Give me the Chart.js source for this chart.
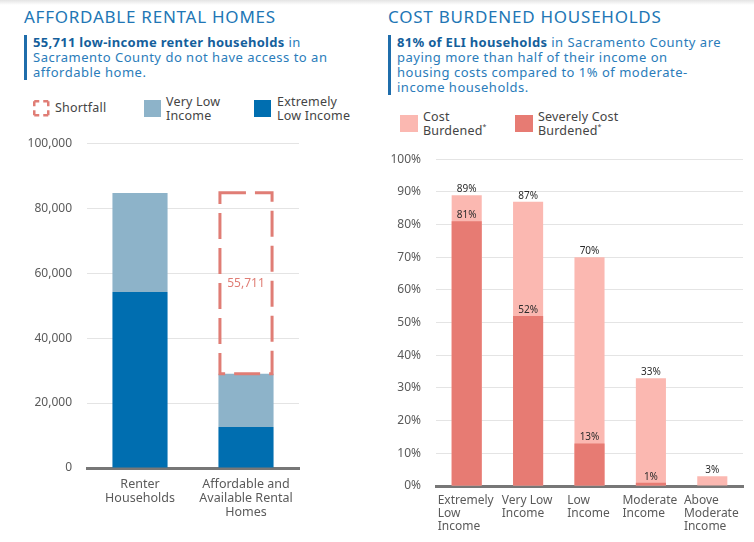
<!DOCTYPE html>
<html>
<head>
<meta charset="utf-8">
<script src="https://cdn.jsdelivr.net/npm/chart.js@4.4.0/dist/chart.umd.min.js"></script>
<style>
  body { margin: 0; width: 754px; height: 542px; position: relative; overflow: hidden; background: #fff; font-family: "Noto Sans", sans-serif; }
  .topshade { position: absolute; left: 0; top: 0; width: 754px; height: 5px; background: linear-gradient(#e4e4e4, #fff); }
  .title { position: absolute; top: 6px; font-size: 17px; line-height: 22px; color: #2176b5; letter-spacing: 0.75px; }
  .sub { position: absolute; border-left: 3px solid #1f6dab; padding-left: 6px; font-size: 13px; line-height: 15px; color: #2a7cba; letter-spacing: 0.5px; }
  .sub b { color: #155f9c; letter-spacing: 0.3px; }
  .leg { position: absolute; font-size: 12.5px; line-height: 14px; color: #444; white-space: nowrap; letter-spacing: 0.2px; }
  .leg sup { font-size: 7px; vertical-align: 6px; line-height: 0; }
  .sw { position: absolute; }
  canvas { position: absolute; }
</style>
</head>
<body>
<div class="topshade"></div>

<div class="title" style="left:24px">AFFORDABLE RENTAL HOMES</div>
<div class="sub" style="left:24px;top:35px"><b>55,711 low-income renter households</b> in<br>Sacramento County do not have access to an<br>affordable home.</div>

<svg class="sw" style="left:33px;top:100px" width="17" height="17"><rect x="1.25" y="1.25" width="14" height="14" fill="none" stroke="#e07d75" stroke-width="2.5" stroke-dasharray="5 4 5 0"/></svg>
<div class="leg" style="left:55px;top:101px">Shortfall</div>
<div class="sw" style="left:144px;top:100px;width:17px;height:17px;background:#8db3c9"></div>
<div class="leg" style="left:166px;top:95px">Very Low<br>Income</div>
<div class="sw" style="left:254px;top:100px;width:17px;height:17px;background:#006eb0"></div>
<div class="leg" style="left:277px;top:95px">Extremely<br>Low Income</div>

<div class="title" style="left:388px">COST BURDENED HOUSEHOLDS</div>
<div class="sub" style="left:388px;top:35px"><b>81% of ELI households</b> in Sacramento County are<br>paying more than half of their income on<br>housing costs compared to 1% of moderate-<br>income households.</div>

<div class="sw" style="left:400px;top:115px;width:18px;height:17px;background:#fbb8b1"></div>
<div class="leg" style="left:423px;top:110px">Cost<br>Burdened<sup>*</sup></div>
<div class="sw" style="left:515px;top:115px;width:18px;height:17px;background:#e77b73"></div>
<div class="leg" style="left:538px;top:110px">Severely Cost<br>Burdened<sup>*</sup></div>

<canvas id="rentalChart" width="377" height="412" style="left:0;top:121px"></canvas>
<canvas id="burdenChart" width="377" height="401" style="left:377px;top:137px"></canvas>

<script>
// ---- data: affordable rental homes
const rentalCategories = [['Renter', 'Households'], ['Affordable and', 'Available Rental', 'Homes']];
const extremelyLow = [54200, 12600];
const veryLow = [30500, 16400];
const shortfall = [null, 55711];

// ---- data: cost burdened households
const burdenCategories = [
  ['Extremely', 'Low', 'Income'],
  ['Very Low', 'Income'],
  ['Low', 'Income'],
  ['Moderate', 'Income'],
  ['Above', 'Moderate', 'Income']
];
const costBurdened = [89, 87, 70, 33, 3];
const severelyBurdened = [81, 52, 13, 1, 0];

const FONT = '"Noto Sans", sans-serif';
const TICK_COLOR = '#5a5a5a';
const GRID_COLOR = '#e4e4e4';
const AXIS_COLOR = '#777777';
Chart.defaults.font.family = FONT;
Chart.defaults.animation = false;

// dashed outline for the shortfall segment
const shortfallBox = {
  id: 'shortfallBox',
  afterDatasetsDraw(chart) {
    const ctx = chart.ctx;
    const meta = chart.getDatasetMeta(2);
    meta.data.forEach((el, i) => {
      const v = shortfall[i];
      if (v == null) return;
      const { x, y, base, width } = el.getProps(['x', 'y', 'base', 'width'], true);
      ctx.save();
      ctx.strokeStyle = '#e07d75';
      ctx.lineWidth = 3;
      ctx.setLineDash([26, 9]);
      ctx.strokeRect(x - width / 2 + 1.5, y, width - 3, base - y);
      ctx.setLineDash([]);
      ctx.fillStyle = '#e07d75';
      ctx.font = '12px ' + FONT;
      ctx.textAlign = 'center';
      ctx.textBaseline = 'middle';
      ctx.fillText(v.toLocaleString('en-US'), x, (y + base) / 2);
      ctx.restore();
    });
  }
};

new Chart(document.getElementById('rentalChart'), {
  type: 'bar',
  data: {
    labels: rentalCategories,
    datasets: [
      { label: 'Extremely Low Income', data: extremelyLow, backgroundColor: '#006eb0' },
      { label: 'Very Low Income', data: veryLow, backgroundColor: '#8db3c9' },
      { label: 'Shortfall', data: shortfall, backgroundColor: 'rgba(0,0,0,0)' }
    ]
  },
  options: {
    responsive: false,
    layout: { padding: { left: 10, right: 78, top: 10, bottom: 0 } },
    categoryPercentage: 0.52,
    barPercentage: 1,
    scales: {
      x: {
        stacked: true,
        grid: { display: false },
        border: { display: true, color: AXIS_COLOR, width: 3 },
        ticks: { color: TICK_COLOR, font: { size: 12.5, lineHeight: 1.12 }, padding: 1, maxRotation: 0 },
        afterFit: s => { s.height = 65; }
      },
      y: {
        stacked: true,
        min: 0, max: 100000,
        grid: { color: GRID_COLOR, drawTicks: false },
        border: { display: false },
        ticks: { stepSize: 20000, color: TICK_COLOR, font: { size: 12 }, padding: 15,
                 callback: v => v.toLocaleString('en-US') },
        afterFit: s => { s.width = 77; }
      }
    },
    plugins: { legend: { display: false }, tooltip: { enabled: false } }
  },
  plugins: [shortfallBox]
});

// value labels above each bar + left-aligned category labels
const burdenLabels = {
  id: 'burdenLabels',
  afterDatasetsDraw(chart) {
    const ctx = chart.ctx;
    ctx.save();
    ctx.fillStyle = '#2b2b2b';
    ctx.font = '10px ' + FONT;
    ctx.textAlign = 'center';
    ctx.textBaseline = 'bottom';
    chart.data.datasets.forEach((ds, di) => {
      chart.getDatasetMeta(di).data.forEach((el, i) => {
        if (!ds.data[i]) return;
        ctx.fillText(ds.data[i] + '%', el.x, el.y - 1);
      });
    });
    const xs = chart.scales.x;
    const bottom = chart.chartArea.bottom;
    ctx.fillStyle = TICK_COLOR;
    ctx.font = '12px ' + FONT;
    ctx.textAlign = 'left';
    ctx.textBaseline = 'middle';
    burdenCategories.forEach((lines, i) => {
      const cx = xs.getPixelForValue(i);
      const w = Math.max(...lines.map(l => ctx.measureText(l).width));
      lines.forEach((l, k) => ctx.fillText(l, cx - w / 2 - 1, bottom + 15 + k * 13));
    });
    ctx.restore();
  }
};

new Chart(document.getElementById('burdenChart'), {
  type: 'bar',
  data: {
    labels: burdenCategories,
    datasets: [
      { label: 'Severely Cost Burdened', data: severelyBurdened, backgroundColor: '#e77b73' },
      { label: 'Cost Burdened', data: costBurdened, backgroundColor: '#fbb8b1' }
    ]
  },
  options: {
    responsive: false,
    layout: { padding: { left: 10, right: 11, top: 8, bottom: 0 } },
    categoryPercentage: 0.49,
    barPercentage: 1,
    scales: {
      x: {
        stacked: true,
        grid: { display: false },
        border: { display: true, color: AXIS_COLOR, width: 3 },
        ticks: { display: false },
        afterFit: s => { s.height = 52; }
      },
      y: {
        stacked: false,
        min: 0, max: 100,
        grid: { color: GRID_COLOR, drawTicks: false },
        border: { display: false },
        ticks: { stepSize: 10, color: TICK_COLOR, font: { size: 12 }, padding: 15, callback: v => v + '%' },
        afterFit: s => { s.width = 49; }
      }
    },
    plugins: { legend: { display: false }, tooltip: { enabled: false } }
  },
  plugins: [burdenLabels]
});
</script>
</body>
</html>
